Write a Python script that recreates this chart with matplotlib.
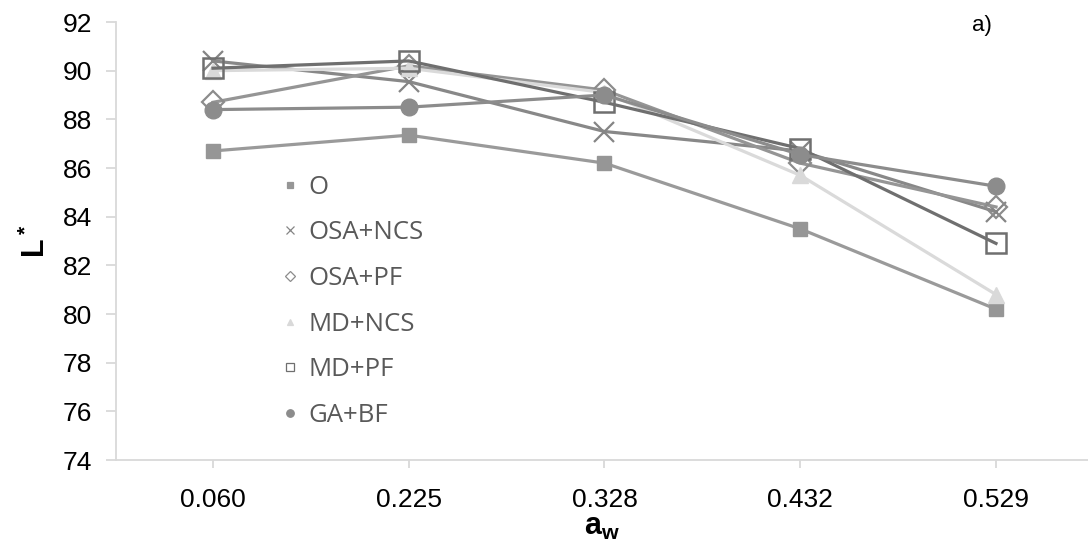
import matplotlib
matplotlib.use("Agg")
import matplotlib.pyplot as plt

### Category labels (water activity) and L* values per sample
AW_LABELS = ["0.060", "0.225", "0.328", "0.432", "0.529"]

L_O = [86.70, 87.35, 86.20, 83.50, 80.20]
L_OSA_NCS = [90.40, 89.55, 87.50, 86.70, 84.20]
L_OSA_PF = [88.70, 90.20, 89.20, 86.20, 84.40]
L_MD_NCS = [90.00, 90.10, 89.10, 85.70, 80.80]
L_MD_PF = [90.10, 90.40, 88.70, 86.80, 82.90]
L_GA_BF = [88.40, 88.50, 89.00, 86.55, 85.25]

SERIES_NAMES = ["O", "OSA+NCS", "OSA+PF", "MD+NCS", "MD+PF", "GA+BF"]

plt.rcParams["font.family"] = ["Liberation Sans", "DejaVu Sans"]
plt.rcParams["mathtext.fontset"] = "custom"
plt.rcParams["mathtext.rm"] = "Liberation Sans"
plt.rcParams["mathtext.bf"] = "Liberation Sans:bold"

AXIS_GREY = "#d9d9d9"

fig = plt.figure(figsize=(10.88, 5.49), dpi=100)
ax = fig.add_axes([116 / 1088, 1 - 460 / 549, 1 - 116 / 1088, (460 - 22) / 549])

x = range(len(AW_LABELS))

# Style for each series: (values, line colour, marker, marker size, face, edge, mew)
styles = [
    (L_O, "#9a9a9a", "s", 10, "#969696", "#969696", 1.0),
    (L_OSA_NCS, "#888888", "x", 14, "none", "#858585", 1.6),
    (L_OSA_PF, "#959595", "D", 11, "none", "#8c8c8c", 1.6),
    (L_MD_NCS, "#dadada", "^", 11, "#d9d9d9", "#d9d9d9", 1.0),
    (L_MD_PF, "#6f6f6f", "s", 14, "none", "#6f6f6f", 1.8),
    (L_GA_BF, "#8c8c8c", "o", 12, "#8c8c8c", "#8c8c8c", 1.0),
]

handles = []
for name, (vals, lc, mk, ms, fc, ec, mew) in zip(SERIES_NAMES, styles):
    line, = ax.plot(x, vals, color=lc, lw=2.3, marker=mk, markersize=ms,
                    markerfacecolor=fc, markeredgecolor=ec, markeredgewidth=mew,
                    label=name)
    handles.append(line)

ax.set_xlim(-0.4955, 4.47)
ax.set_ylim(74, 92)
ax.set_yticks(range(74, 93, 2))
ax.set_xticks(list(x))
ax.set_xticklabels(AW_LABELS)

for side in ["top", "right"]:
    ax.spines[side].set_visible(False)
for side in ["left", "bottom"]:
    ax.spines[side].set_color(AXIS_GREY)
    ax.spines[side].set_linewidth(1.3)

ax.tick_params(axis="y", length=7, width=1.3, color=AXIS_GREY, labelsize=19, pad=10)
ax.tick_params(axis="x", length=6, width=1.3, color=AXIS_GREY, labelsize=19, pad=14)

ax.set_ylabel(r"$\mathbf{L^*}$", fontsize=22, labelpad=8)
ax.set_xlabel(r"$\mathbf{a_w}$", fontsize=22, labelpad=0)

fig.text(982 / 1088, 1 - 26 / 549, "a)", fontsize=16, ha="center", va="center")

# Legend with markers only, like the spreadsheet original
leg = ax.legend(handles=[plt.Line2D([], [], linestyle="none", marker=h.get_marker(),
                                   markersize=h.get_markersize() * 0.45,
                                   markerfacecolor=h.get_markerfacecolor(),
                                   markeredgecolor=h.get_markeredgecolor(),
                                   markeredgewidth=0.9)
                         for h in handles],
                labels=SERIES_NAMES, loc="upper left",
                bbox_to_anchor=(267 / 1088, 1 - 162 / 549), bbox_transform=fig.transFigure,
                frameon=False, borderpad=0, handlelength=0.8, handletextpad=0.3,
                labelspacing=0.8, numpoints=1,
                prop={"family": "Open Sans", "size": 18.5})
for txt in leg.get_texts():
    txt.set_color("#595959")

fig.savefig("out.png", dpi=100)
